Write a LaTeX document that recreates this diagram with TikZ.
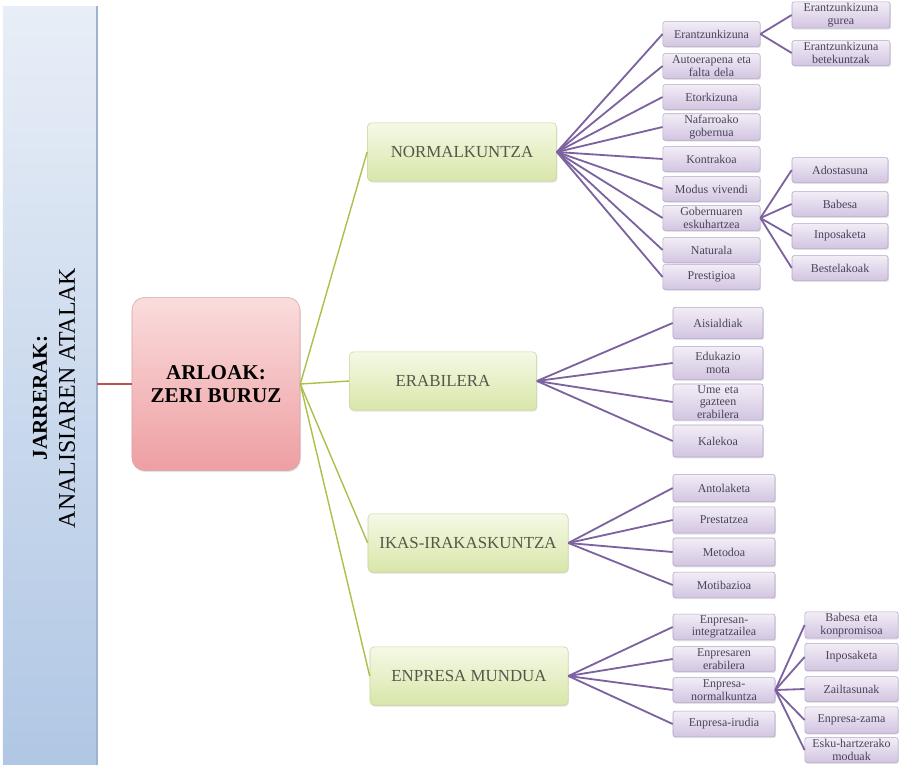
\documentclass[tikz,border=0pt]{standalone}
\usepackage{fontspec}
\setmainfont{Liberation Serif}
\usetikzlibrary{shadows}
\definecolor{BarTop}{HTML}{E8EEF7}
\definecolor{BarBottom}{HTML}{B0C7E4}
\definecolor{BarEdge}{HTML}{9DB3D1}
\definecolor{RootTop}{HTML}{FADCDD}
\definecolor{RootBottom}{HTML}{EE9FA2}
\definecolor{RootEdge}{HTML}{D9A3A5}
\definecolor{RootLine}{HTML}{C0504D}
\definecolor{AreaTop}{HTML}{F5F9E6}
\definecolor{AreaBottom}{HTML}{D8E6A9}
\definecolor{AreaEdge}{HTML}{C9D59C}
\definecolor{AreaLine}{HTML}{A9C14B}
\definecolor{AreaText}{HTML}{56574A}
\definecolor{LeafTop}{HTML}{F2EDF6}
\definecolor{LeafBottom}{HTML}{D2C5E1}
\definecolor{LeafEdge}{HTML}{B4A4CA}
\definecolor{LeafLine}{HTML}{7D62A0}
\definecolor{LeafText}{HTML}{4A4458}

\begin{document}
\begin{tikzpicture}[x=0.025cm, y=-0.025cm,
  shade/.style={drop shadow={opacity=0.22, shadow xshift=0.6pt, shadow yshift=-1pt}},
  root/.style={draw=RootEdge, top color=RootTop, bottom color=RootBottom, rounded corners=9pt, shade,
    minimum width=4.2cm, minimum height=4.33cm, align=center, font=\fontsize{15}{16}\selectfont\bfseries},
  area/.style={draw=AreaEdge, top color=AreaTop, bottom color=AreaBottom, rounded corners=3pt, shade,
    minimum height=1.46cm, text=AreaText, font=\fontsize{12}{13}\selectfont},
  leaf/.style={draw=LeafEdge, top color=LeafTop, bottom color=LeafBottom, rounded corners=1.5pt, shade,
    text width=#1, minimum height=0.62cm, inner xsep=0pt, inner ysep=1pt, align=center,
    text=LeafText, font=\fontsize{8.5}{9}\selectfont},
  leaf/.default=2.4cm,
  tolink/.style={draw=LeafLine, line width=1.3pt},
  arealink/.style={draw=AreaLine, line width=1pt}
]
\useasboundingbox (0,0) rectangle (899,764);

% left band
\node[draw=none, top color=BarTop, bottom color=BarBottom, minimum width=2.35cm, minimum height=18.95cm,
  inner sep=0pt] (bar) at (50,385.5) {};
\draw[BarEdge, line width=1.2pt] (bar.north east) -- (bar.south east);
\node[rotate=90, align=center, font=\fontsize{17}{20}\selectfont] (title) at (54,398)
  {{\fontsize{15}{17}\selectfont\bfseries JARRERAK:}\\ANALISIAREN ATALAK};

% root
\node[root] (arl) at (216,384) {ARLOAK:\\ZERI BURUZ};
\draw[RootLine, line width=0.8pt] (arl.west) -- (arl.west -| bar.east);

% areas
\node[area, minimum width=4.73cm] (norm) at (462,152) {NORMALKUNTZA};
\node[area, minimum width=4.68cm] (erab) at (443,381) {ERABILERA};
\node[area, minimum width=5cm] (ikas) at (468,543) {IKAS-IRAKASKUNTZA};
\node[area, minimum width=4.95cm] (enpr) at (469,676) {ENPRESA MUNDUA};
\foreach \a in {norm,erab,ikas,enpr}
  \draw[arealink] (arl.east) -- (\a.west);

% normalkuntza
\node[leaf=2.43cm] (n1) at (711.5,34) {Erantzunkizuna};
\node[leaf=2.43cm] (n2) at (711.5,66) {Autoerapena eta\\falta dela};
\node[leaf=2.43cm] (n3) at (711.5,97) {Etorkizuna};
\node[leaf=2.43cm] (n4) at (711.5,127) {Nafarroako\\gobernua};
\node[leaf=2.43cm] (n5) at (711.5,159) {Kontrakoa};
\node[leaf=2.43cm] (n6) at (711.5,189) {Modus vivendi};
\node[leaf=2.43cm] (n7) at (711.5,218) {Gobernuaren\\eskuhartzea};
\node[leaf=2.43cm] (n8) at (711.5,250) {Naturala};
\node[leaf=2.43cm] (n9) at (711.5,277) {Prestigioa};
\foreach \t in {n1,n2,n3,n4,n5,n6,n7,n8,n9}
  \draw[tolink] (norm.east) -- (\t.west);

\node[leaf=2.45cm] (n1a) at (841,15) {Erantzunkizuna\\gurea};
\node[leaf=2.45cm] (n1b) at (841,53) {Erantzunkizuna\\betekuntzak};
\foreach \t in {n1a,n1b}
  \draw[tolink] (n1.east) -- (\t.west);

\node[leaf=2.4cm] (n7a) at (840,170) {Adostasuna};
\node[leaf=2.4cm] (n7b) at (840,204) {Babesa};
\node[leaf=2.4cm] (n7c) at (840,236) {Inposaketa};
\node[leaf=2.4cm] (n7d) at (840,268) {Bestelakoak};
\foreach \t in {n7a,n7b,n7c,n7d}
  \draw[tolink] (n7.east) -- (\t.west);

% erabilera
\node[leaf=2.25cm, minimum height=0.78cm] (e1) at (718,323) {Aisialdiak};
\node[leaf=2.25cm, minimum height=0.82cm] (e2) at (718,363) {Edukazio\\mota};
\node[leaf=2.25cm, minimum height=0.85cm] (e3) at (718,402) {Ume eta\\gazteen\\erabilera};
\node[leaf=2.25cm, minimum height=0.8cm] (e4) at (718,441) {Kalekoa};
\foreach \t in {e1,e2,e3,e4}
  \draw[tolink] (erab.east) -- (\t.west);

% ikas-irakaskuntza
\node[leaf=2.55cm, minimum height=0.68cm] (i1) at (724,488) {Antolaketa};
\node[leaf=2.55cm, minimum height=0.66cm] (i2) at (724,520) {Prestatzea};
\node[leaf=2.55cm, minimum height=0.7cm] (i3) at (724,552) {Metodoa};
\node[leaf=2.55cm, minimum height=0.64cm] (i4) at (724,585) {Motibazioa};
\foreach \t in {i1,i2,i3,i4}
  \draw[tolink] (ikas.east) -- (\t.west);

% enpresa mundua
\node[leaf=2.55cm] (m1) at (724,627) {Enpresan-\\integratzailea};
\node[leaf=2.55cm] (m2) at (724,659) {Enpresaren\\erabilera};
\node[leaf=2.55cm] (m3) at (724,690) {Enpresa-\\normalkuntza};
\node[leaf=2.55cm, minimum height=0.64cm] (m4) at (724,724) {Enpresa-irudia};
\foreach \t in {m1,m2,m3,m4}
  \draw[tolink] (enpr.east) -- (\t.west);

\node[leaf=2.33cm] (m3a) at (851.5,625) {Babesa eta\\konpromisoa};
\node[leaf=2.33cm, minimum height=0.68cm] (m3b) at (851.5,657) {Inposaketa};
\node[leaf=2.33cm] (m3c) at (851.5,689) {Zailtasunak};
\node[leaf=2.33cm, minimum height=0.66cm] (m3d) at (851.5,720) {Enpresa-zama};
\node[leaf=2.33cm] (m3e) at (851.5,750) {Esku-hartzerako\\moduak};
\foreach \t in {m3a,m3b,m3c,m3d,m3e}
  \draw[tolink] (m3.east) -- (\t.west);
\end{tikzpicture}
\end{document}
